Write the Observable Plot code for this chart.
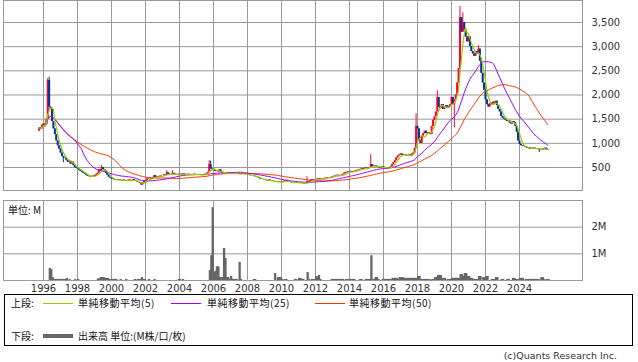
<!DOCTYPE html>
<html><head><meta charset="utf-8">
<script src="https://cdn.jsdelivr.net/npm/d3@7"></script>
<script src="https://cdn.jsdelivr.net/npm/@observablehq/plot@0.6"></script>
<style>
body{margin:0;background:#fff;}
#wrap{position:relative;width:638px;height:362px;overflow:hidden;font-family:"DejaVu Sans",sans-serif;}
.abs{position:absolute;white-space:nowrap;}
.jp{font-family:"Noto Sans CJK JP","DejaVu Sans",sans-serif;font-size:10px;line-height:12px;color:#111;}
#legend{position:absolute;left:4px;top:294px;width:629px;height:52px;box-sizing:border-box;border:1px solid #000;}
.sw{position:absolute;height:1px;}
</style></head><body>
<div id="wrap">
  <div id="pricePanel" class="abs" style="left:0;top:0"></div>
  <div id="volPanel" class="abs" style="left:0;top:198px"></div>
  <div class="abs jp" style="left:8px;top:204px">単位: M</div>
  <div id="legend"></div>
  <div class="abs jp" style="left:11px;top:297px">上段:</div>
  <div class="sw" style="left:43px;top:303px;width:30px;background:#99cc00"></div>
  <div class="abs jp" style="left:78px;top:297px;letter-spacing:0.5px">単純移動平均(5)</div>
  <div class="sw" style="left:171px;top:303px;width:30px;background:#9900ff"></div>
  <div class="abs jp" style="left:207px;top:297px;letter-spacing:0.5px">単純移動平均(25)</div>
  <div class="sw" style="left:315px;top:303px;width:30px;background:#ff3300"></div>
  <div class="abs jp" style="left:349px;top:297px;letter-spacing:0.5px">単純移動平均(50)</div>
  <div class="abs jp" style="left:11px;top:330px">下段:</div>
  <div class="sw" style="left:43px;top:334px;width:30px;height:4px;background:#666"></div>
  <div class="abs jp" style="left:78px;top:330px">出来高 単位:(M株/口/枚)</div>
  <div class="abs" style="right:21px;top:350px;font-size:9.5px;color:#333">(c)Quants Research Inc.</div>
</div>
<script>
// monthly candles, first month 1995-10
const startYear = 1995, startMonth = 10;
const firstOpen = 1250;
const closes = [
  1320, 1300, 1380,                                               // 1995 Oct-Dec
  1400, 1380, 1500, 2300, 1750, 1700, 1450, 1300, 1180, 1050, 950, 880, // 1996
  800, 730, 700, 690, 650, 610, 630, 570, 610, 540, 500, 480,     // 1997
  470, 440, 420, 400, 380, 360, 340, 320, 310, 300, 320, 330,     // 1998
  320, 350, 380, 450, 420, 500, 460, 430, 380, 340, 300, 280,     // 1999
  260, 250, 240, 230, 250, 240, 230, 220, 240, 230, 220, 230,     // 2000
  240, 230, 220, 250, 230, 210, 200, 190, 170, 140, 180, 220,     // 2001
  220, 260, 280, 270, 260, 290, 330, 300, 290, 310, 320, 330,     // 2002
  330, 350, 340, 390, 360, 350, 350, 380, 360, 340, 350, 360,     // 2003
  350, 360, 370, 360, 350, 355, 360, 350, 345, 350, 360, 355,     // 2004
  350, 340, 355, 345, 340, 350, 360, 370, 400, 560, 470, 450,     // 2005
  450, 420, 430, 410, 450, 400, 390, 380, 380, 370, 375, 370,     // 2006
  370, 375, 380, 370, 365, 360, 375, 360, 370, 365, 360, 355,     // 2007
  350, 340, 330, 330, 320, 310, 300, 290, 280, 260, 250, 250,     // 2008
  240, 230, 220, 240, 230, 220, 210, 200, 210, 200, 190, 195,     // 2009
  200, 210, 220, 230, 210, 200, 190, 180, 185, 180, 190, 185,     // 2010
  180, 175, 170, 165, 170, 175, 200, 190, 230, 250, 240, 250,     // 2011
  250, 260, 270, 255, 250, 260, 270, 280, 290, 285, 290, 300,     // 2012
  310, 320, 330, 340, 330, 320, 340, 350, 380, 400, 390, 410,     // 2013
  420, 410, 400, 420, 430, 440, 450, 460, 470, 460, 480, 490,     // 2014
  480, 490, 500, 560, 520, 530, 540, 520, 500, 490, 510, 520,     // 2015
  500, 480, 470, 490, 500, 520, 560, 600, 640, 700, 740, 760,     // 2016
  780, 750, 770, 760, 740, 750, 760, 740, 780, 800, 900, 1350,    // 2017
  1300, 1050, 1000, 1150, 1200, 1250, 1200, 1220, 1200, 1180, 1350, 1480, // 2018
  1550, 1650, 1950, 1750, 1720, 1800, 1700, 1750, 1780, 1720, 1760, 1800, // 2019
  1950, 1800, 1900, 2000, 2250, 2550, 3600, 3300, 3500, 3350, 3200, 3100, // 2020
  3200, 3000, 2900, 2850, 2800, 2900, 2850, 2950, 2700, 2450, 2250, 2100, // 2021
  1900, 1800, 1750, 1820, 1800, 1850, 1830, 1870, 1780, 1700, 1650, 1560, // 2022
  1520, 1500, 1480, 1450, 1470, 1420, 1400, 1450, 1430, 1350, 1230, 1050, // 2023
  980, 950, 940, 930, 920, 900, 910, 880, 900, 890, 900, 880,     // 2024
  890, 880, 850, 870, 880, 890, 900, 870, 860                     // 2025 Jan-Sep
];
// volume, millions of shares, same months
const volumes = [
  0, 0, 0,
  0, 0, 0, 0, 0.45, 0.41, 0.11, 0.04, 0.04, 0.04, 0.04, 0.04,
  0.04, 0.04, 0.04, 0.04, 0.08, 0, 0.04, 0, 0, 0, 0.04, 0,
  0.04, 0, 0, 0, 0, 0, 0, 0, 0, 0, 0, 0,
  0, 0, 0.06, 0.06, 0.11, 0.11, 0.11, 0.08, 0.08, 0.08, 0.04, 0.04,
  0.04, 0.04, 0.04, 0.04, 0, 0, 0.04, 0, 0, 0, 0.04, 0,
  0, 0, 0, 0, 0.04, 0, 0.04, 0.04, 0.04, 0.11, 0.04, 0.04,
  0, 0, 0.04, 0, 0, 0, 0.04, 0, 0, 0, 0, 0,
  0, 0, 0, 0, 0, 0, 0, 0, 0, 0, 0, 0.04,
  0.04, 0, 0.04, 0, 0, 0, 0, 0, 0, 0, 0, 0,
  0, 0, 0, 0, 0, 0, 0, 0, 0, 0.375, 0.93, 2.73,
  0.3, 0.35, 0.51, 0.51, 0.11, 0.11, 0.11, 1.2, 0.83, 0.11, 0.11, 0.04,
  0.15, 0.04, 0.04, 0.04, 0.04, 0, 0.68, 0.04, 0, 0, 0, 0,
  0, 0, 0, 0, 0.04, 0.04, 0, 0, 0, 0, 0, 0,
  0, 0, 0, 0, 0, 0, 0, 0.26, 0, 0.11, 0.11, 0.11,
  0.04, 0, 0.04, 0.04, 0, 0, 0, 0, 0, 0.04, 0.04, 0,
  0.08, 0.08, 0.04, 0.04, 0, 0, 0.3, 0.04, 0, 0.04, 0.04, 0.04,
  0.14, 0.14, 0.19, 0.04, 0, 0, 0, 0, 0, 0, 0, 0.04,
  0.04, 0.04, 0.04, 0.04, 0.04, 0.04, 0.04, 0.04, 0, 0.04, 0.04, 0.04,
  0.04, 0.04, 0.04, 0.04, 0, 0, 0, 0.04, 0.04, 0, 0, 0.04,
  0.04, 0.04, 0.04, 0.93, 0.04, 0.04, 0.11, 0.11, 0.04, 0, 0, 0.04,
  0.04, 0.04, 0.04, 0.04, 0.04, 0.04, 0.08, 0.08, 0.08, 0.08, 0.04, 0.11,
  0.11, 0.11, 0.08, 0.08, 0.08, 0.08, 0.08, 0.08, 0.08, 0.08, 0.08, 0.08,
  0.15, 0.15, 0.04, 0.04, 0.04, 0.04, 0.04, 0.04, 0.04, 0, 0.04, 0.04,
  0.11, 0.11, 0.19, 0.19, 0.19, 0.08, 0.08, 0.08, 0, 0.04, 0.04, 0.04,
  0.08, 0.08, 0.08, 0.08, 0.08, 0.08, 0.22, 0.22, 0.15, 0.26, 0.26, 0.15,
  0.15, 0.08, 0.08, 0.04, 0.04, 0.04, 0.04, 0.15, 0.15, 0, 0.11, 0.11,
  0.15, 0.15, 0, 0, 0.04, 0.04, 0.04, 0.11, 0.11, 0, 0, 0.04,
  0.04, 0, 0, 0.04, 0.04, 0, 0, 0.08, 0.08, 0.04, 0.04, 0.04,
  0.08, 0.08, 0.08, 0, 0.04, 0.04, 0.04, 0.04, 0.04, 0.04, 0.04, 0.04,
  0.04, 0.04, 0, 0.11, 0.11, 0.04, 0, 0.04, 0.04
];
// months with visible wicks beyond the body
const wickMonths = ["1996-04","1996-05","1997-03","1999-06","2001-10","2003-04","2003-08","2005-10","2005-11","2011-07","2015-04","2017-12","2019-03","2020-03","2020-07","2020-09","2021-08","2025-03"];
const wickHighs  = [2340, 2370, null, 540, null, 435, 435, 640, 630, 310, 765, 1610, 2090, null, 3830, 3700, 3020, null];
const wickLows   = [null, null, 600, null, 125, null, null, null, null, null, null, null, null, 1320, null, null, null, 810];

const yearTicks = [1996, 1998, 2000, 2002, 2004, 2006, 2008, 2010, 2012, 2014, 2016, 2018, 2020, 2022, 2024];
const priceTicks = [500, 1000, 1500, 2000, 2500, 3000, 3500];
const volumeTicks = [1, 2];

const RED = "#ff0033", BLUE = "#003399", GREEN = "#99cc00", PURPLE = "#9900ff", ORANGE = "#ff3300", GRID = "#999999";

function sma(n) {
  return closes.map((_, i) => d3.mean(closes.slice(Math.max(0, i - n + 1), i + 1)));
}
const ma5 = sma(5), ma25 = sma(25), ma50 = sma(50);

const wick = new Map(wickMonths.map((k, i) => [k, {h: wickHighs[i], l: wickLows[i]}]));
const data = closes.map((c, i) => {
  const mi = startMonth - 1 + i;
  const y = startYear + Math.floor(mi / 12), mo = mi % 12 + 1;
  const key = `${y}-${String(mo).padStart(2, "0")}`;
  const o = i === 0 ? firstOpen : closes[i - 1];
  const w = wick.get(key) || {};
  return {
    t: startYear + mi / 12, key, open: o, close: c,
    high: w.h != null ? w.h : Math.max(o, c),
    low: w.l != null ? w.l : Math.min(o, c),
    up: c > o, vol: volumes[i], ma5: ma5[i], ma25: ma25[i], ma50: ma50[i]
  };
});

const xDomain = [1993.647, 2027.706];
const chartStyle = {fontFamily: "DejaVu Sans, sans-serif", fontSize: "10px", color: "#333", background: "transparent"};

const priceChart = Plot.plot({
  width: 638, height: 192,
  marginLeft: 3, marginRight: 56, marginTop: 0, marginBottom: 2,
  style: chartStyle,
  x: {type: "linear", domain: xDomain, axis: null},
  y: {type: "linear", domain: [24.1, 3955.2], axis: null},
  marks: [
    Plot.ruleX(yearTicks, {stroke: GRID, strokeWidth: 1}),
    Plot.ruleY(priceTicks, {stroke: GRID, strokeWidth: 1}),
    Plot.ruleX(data, {x: "t", y1: "low", y2: "high", stroke: d => d.up ? RED : BLUE, strokeWidth: 1}),
    Plot.ruleX(data, {x: "t", y1: "open", y2: "close", stroke: d => d.up ? RED : BLUE, strokeWidth: 2}),
    Plot.line(data, {x: "t", y: "ma50", stroke: ORANGE, strokeWidth: 1}),
    Plot.line(data, {x: "t", y: "ma25", stroke: PURPLE, strokeWidth: 1}),
    Plot.line(data, {x: "t", y: "ma5", stroke: GREEN, strokeWidth: 1.2}),
    Plot.frame({stroke: GRID, strokeWidth: 1}),
    Plot.axisY(priceTicks, {anchor: "right", tickSize: 0, tickPadding: 9, tickFormat: d3.format(","), label: null})
  ]
});
document.getElementById("pricePanel").appendChild(priceChart);

const volChart = Plot.plot({
  width: 638, height: 100,
  marginLeft: 3, marginRight: 56, marginTop: 2, marginBottom: 18,
  style: chartStyle,
  x: {type: "linear", domain: xDomain, axis: null},
  y: {type: "linear", domain: [0, 3], axis: null},
  marks: [
    Plot.ruleX(yearTicks, {stroke: GRID, strokeWidth: 1}),
    Plot.ruleY(volumeTicks, {stroke: GRID, strokeWidth: 1}),
    Plot.rectY(data.filter(d => d.vol > 0), {x1: "t", x2: d => d.t + 0.135, y: "vol", fill: "#666666"}),
    Plot.frame({stroke: GRID, strokeWidth: 1}),
    Plot.axisY(volumeTicks, {anchor: "right", tickSize: 0, tickPadding: 9, tickFormat: d => d + "M", label: null}),
    Plot.axisX(yearTicks, {anchor: "bottom", tickSize: 0, tickPadding: 4, tickFormat: d3.format("d"), label: null})
  ]
});
document.getElementById("volPanel").appendChild(volChart);
</script>
</body></html>
